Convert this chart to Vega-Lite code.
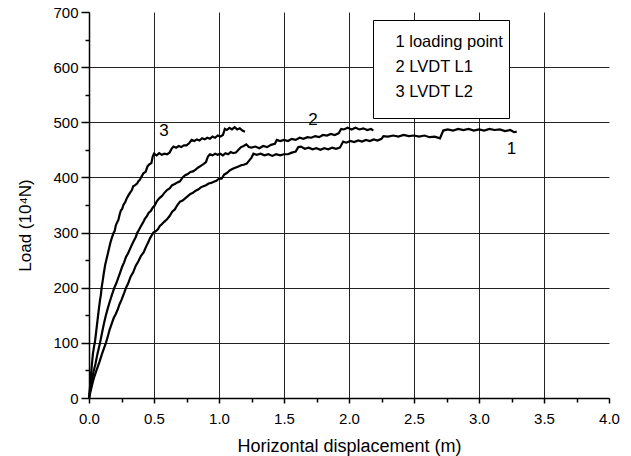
{
  "$schema": "https://vega.github.io/schema/vega-lite/v6.json",
  "autosize": {"type": "none"},
  "width": 520,
  "height": 386,
  "padding": {"left": 89, "top": 12, "right": 22, "bottom": 58},
  "background": "#ffffff",
  "config": {
    "view": {"stroke": null},
    "font": "Liberation Sans",
    "axis": {
      "labelFont": "Liberation Sans",
      "titleFont": "Liberation Sans",
      "labelColor": "#000",
      "titleColor": "#000",
      "titleFontWeight": "normal",
      "domainColor": "#000",
      "tickColor": "#000",
      "labelFlush": false,
      "labelOverlap": false
    },
    "legend": {"labelFont": "Liberation Sans", "titleFont": "Liberation Sans"}
  },
  "datasets": {
    "curves": [
      {"s":"3 LVDT L2","x":0,"y":0},{"s":"3 LVDT L2","x":0.008,"y":20},{"s":"3 LVDT L2","x":0.015,"y":40},{"s":"3 LVDT L2","x":0.022,"y":60},{"s":"3 LVDT L2","x":0.03,"y":80},{"s":"3 LVDT L2","x":0.04,"y":95},{"s":"3 LVDT L2","x":0.046,"y":102},{"s":"3 LVDT L2","x":0.055,"y":120},{"s":"3 LVDT L2","x":0.065,"y":140},{"s":"3 LVDT L2","x":0.075,"y":160},{"s":"3 LVDT L2","x":0.085,"y":178},{"s":"3 LVDT L2","x":0.092,"y":188},{"s":"3 LVDT L2","x":0.097,"y":200},{"s":"3 LVDT L2","x":0.105,"y":212},{"s":"3 LVDT L2","x":0.115,"y":228},{"s":"3 LVDT L2","x":0.125,"y":242},{"s":"3 LVDT L2","x":0.135,"y":252},{"s":"3 LVDT L2","x":0.145,"y":262},{"s":"3 LVDT L2","x":0.155,"y":272},{"s":"3 LVDT L2","x":0.165,"y":282},{"s":"3 LVDT L2","x":0.175,"y":290},{"s":"3 LVDT L2","x":0.19,"y":300},{"s":"3 LVDT L2","x":0.198,"y":303},{"s":"3 LVDT L2","x":0.205,"y":312},{"s":"3 LVDT L2","x":0.215,"y":318},{"s":"3 LVDT L2","x":0.226,"y":323},{"s":"3 LVDT L2","x":0.235,"y":332},{"s":"3 LVDT L2","x":0.245,"y":340},{"s":"3 LVDT L2","x":0.255,"y":343},{"s":"3 LVDT L2","x":0.265,"y":350},{"s":"3 LVDT L2","x":0.28,"y":356},{"s":"3 LVDT L2","x":0.29,"y":362},{"s":"3 LVDT L2","x":0.3,"y":366},{"s":"3 LVDT L2","x":0.315,"y":372},{"s":"3 LVDT L2","x":0.33,"y":377},{"s":"3 LVDT L2","x":0.34,"y":384},{"s":"3 LVDT L2","x":0.355,"y":386},{"s":"3 LVDT L2","x":0.37,"y":389},{"s":"3 LVDT L2","x":0.38,"y":393},{"s":"3 LVDT L2","x":0.392,"y":396},{"s":"3 LVDT L2","x":0.405,"y":402},{"s":"3 LVDT L2","x":0.42,"y":408},{"s":"3 LVDT L2","x":0.435,"y":410},{"s":"3 LVDT L2","x":0.45,"y":420},{"s":"3 LVDT L2","x":0.465,"y":424},{"s":"3 LVDT L2","x":0.48,"y":426},{"s":"3 LVDT L2","x":0.49,"y":438},{"s":"3 LVDT L2","x":0.5,"y":443},{"s":"3 LVDT L2","x":0.52,"y":440},{"s":"3 LVDT L2","x":0.54,"y":444},{"s":"3 LVDT L2","x":0.56,"y":441},{"s":"3 LVDT L2","x":0.58,"y":443},{"s":"3 LVDT L2","x":0.6,"y":442},{"s":"3 LVDT L2","x":0.62,"y":445},{"s":"3 LVDT L2","x":0.635,"y":452},{"s":"3 LVDT L2","x":0.65,"y":456},{"s":"3 LVDT L2","x":0.67,"y":454},{"s":"3 LVDT L2","x":0.69,"y":457},{"s":"3 LVDT L2","x":0.71,"y":455},{"s":"3 LVDT L2","x":0.73,"y":458},{"s":"3 LVDT L2","x":0.75,"y":458},{"s":"3 LVDT L2","x":0.77,"y":462},{"s":"3 LVDT L2","x":0.79,"y":468},{"s":"3 LVDT L2","x":0.81,"y":466},{"s":"3 LVDT L2","x":0.83,"y":469},{"s":"3 LVDT L2","x":0.85,"y":467},{"s":"3 LVDT L2","x":0.87,"y":471},{"s":"3 LVDT L2","x":0.89,"y":469},{"s":"3 LVDT L2","x":0.91,"y":472},{"s":"3 LVDT L2","x":0.93,"y":470},{"s":"3 LVDT L2","x":0.95,"y":474},{"s":"3 LVDT L2","x":0.97,"y":472},{"s":"3 LVDT L2","x":0.99,"y":476},{"s":"3 LVDT L2","x":1.01,"y":474},{"s":"3 LVDT L2","x":1.03,"y":477},{"s":"3 LVDT L2","x":1.045,"y":488},{"s":"3 LVDT L2","x":1.06,"y":486},{"s":"3 LVDT L2","x":1.08,"y":490},{"s":"3 LVDT L2","x":1.1,"y":487},{"s":"3 LVDT L2","x":1.12,"y":491},{"s":"3 LVDT L2","x":1.14,"y":487},{"s":"3 LVDT L2","x":1.16,"y":489},{"s":"3 LVDT L2","x":1.18,"y":485},{"s":"3 LVDT L2","x":1.2,"y":483},

      {"s":"2 LVDT L1","x":0,"y":0},{"s":"2 LVDT L1","x":0.01,"y":15},{"s":"2 LVDT L1","x":0.02,"y":30},{"s":"2 LVDT L1","x":0.035,"y":48},{"s":"2 LVDT L1","x":0.05,"y":62},{"s":"2 LVDT L1","x":0.065,"y":80},{"s":"2 LVDT L1","x":0.085,"y":100},{"s":"2 LVDT L1","x":0.1,"y":118},{"s":"2 LVDT L1","x":0.115,"y":135},{"s":"2 LVDT L1","x":0.13,"y":150},{"s":"2 LVDT L1","x":0.145,"y":163},{"s":"2 LVDT L1","x":0.16,"y":175},{"s":"2 LVDT L1","x":0.175,"y":186},{"s":"2 LVDT L1","x":0.195,"y":200},{"s":"2 LVDT L1","x":0.21,"y":208},{"s":"2 LVDT L1","x":0.225,"y":218},{"s":"2 LVDT L1","x":0.24,"y":228},{"s":"2 LVDT L1","x":0.255,"y":238},{"s":"2 LVDT L1","x":0.27,"y":246},{"s":"2 LVDT L1","x":0.285,"y":256},{"s":"2 LVDT L1","x":0.3,"y":262},{"s":"2 LVDT L1","x":0.315,"y":270},{"s":"2 LVDT L1","x":0.33,"y":278},{"s":"2 LVDT L1","x":0.345,"y":285},{"s":"2 LVDT L1","x":0.36,"y":292},{"s":"2 LVDT L1","x":0.372,"y":300},{"s":"2 LVDT L1","x":0.385,"y":305},{"s":"2 LVDT L1","x":0.4,"y":312},{"s":"2 LVDT L1","x":0.415,"y":318},{"s":"2 LVDT L1","x":0.43,"y":325},{"s":"2 LVDT L1","x":0.445,"y":330},{"s":"2 LVDT L1","x":0.46,"y":336},{"s":"2 LVDT L1","x":0.475,"y":339},{"s":"2 LVDT L1","x":0.49,"y":345},{"s":"2 LVDT L1","x":0.505,"y":349},{"s":"2 LVDT L1","x":0.52,"y":356},{"s":"2 LVDT L1","x":0.54,"y":362},{"s":"2 LVDT L1","x":0.56,"y":366},{"s":"2 LVDT L1","x":0.58,"y":372},{"s":"2 LVDT L1","x":0.6,"y":377},{"s":"2 LVDT L1","x":0.62,"y":380},{"s":"2 LVDT L1","x":0.64,"y":386},{"s":"2 LVDT L1","x":0.66,"y":388},{"s":"2 LVDT L1","x":0.68,"y":391},{"s":"2 LVDT L1","x":0.7,"y":393},{"s":"2 LVDT L1","x":0.72,"y":400},{"s":"2 LVDT L1","x":0.74,"y":404},{"s":"2 LVDT L1","x":0.76,"y":406},{"s":"2 LVDT L1","x":0.78,"y":410},{"s":"2 LVDT L1","x":0.8,"y":411},{"s":"2 LVDT L1","x":0.82,"y":414},{"s":"2 LVDT L1","x":0.84,"y":418},{"s":"2 LVDT L1","x":0.86,"y":421},{"s":"2 LVDT L1","x":0.88,"y":424},{"s":"2 LVDT L1","x":0.9,"y":428},{"s":"2 LVDT L1","x":0.915,"y":438},{"s":"2 LVDT L1","x":0.93,"y":442},{"s":"2 LVDT L1","x":0.95,"y":440},{"s":"2 LVDT L1","x":0.97,"y":443},{"s":"2 LVDT L1","x":0.99,"y":441},{"s":"2 LVDT L1","x":1.01,"y":443},{"s":"2 LVDT L1","x":1.03,"y":440},{"s":"2 LVDT L1","x":1.05,"y":444},{"s":"2 LVDT L1","x":1.07,"y":442},{"s":"2 LVDT L1","x":1.09,"y":446},{"s":"2 LVDT L1","x":1.11,"y":444},{"s":"2 LVDT L1","x":1.13,"y":445},{"s":"2 LVDT L1","x":1.15,"y":450},{"s":"2 LVDT L1","x":1.17,"y":455},{"s":"2 LVDT L1","x":1.19,"y":457},{"s":"2 LVDT L1","x":1.21,"y":460},{"s":"2 LVDT L1","x":1.23,"y":455},{"s":"2 LVDT L1","x":1.25,"y":454},{"s":"2 LVDT L1","x":1.28,"y":456},{"s":"2 LVDT L1","x":1.31,"y":453},{"s":"2 LVDT L1","x":1.34,"y":457},{"s":"2 LVDT L1","x":1.37,"y":455},{"s":"2 LVDT L1","x":1.4,"y":459},{"s":"2 LVDT L1","x":1.43,"y":461},{"s":"2 LVDT L1","x":1.445,"y":468},{"s":"2 LVDT L1","x":1.47,"y":466},{"s":"2 LVDT L1","x":1.5,"y":468},{"s":"2 LVDT L1","x":1.53,"y":466},{"s":"2 LVDT L1","x":1.56,"y":470},{"s":"2 LVDT L1","x":1.59,"y":468},{"s":"2 LVDT L1","x":1.62,"y":472},{"s":"2 LVDT L1","x":1.65,"y":470},{"s":"2 LVDT L1","x":1.68,"y":473},{"s":"2 LVDT L1","x":1.71,"y":472},{"s":"2 LVDT L1","x":1.74,"y":475},{"s":"2 LVDT L1","x":1.77,"y":473},{"s":"2 LVDT L1","x":1.8,"y":477},{"s":"2 LVDT L1","x":1.83,"y":476},{"s":"2 LVDT L1","x":1.86,"y":479},{"s":"2 LVDT L1","x":1.89,"y":477},{"s":"2 LVDT L1","x":1.92,"y":480},{"s":"2 LVDT L1","x":1.94,"y":488},{"s":"2 LVDT L1","x":1.96,"y":487},{"s":"2 LVDT L1","x":1.99,"y":490},{"s":"2 LVDT L1","x":2.02,"y":487},{"s":"2 LVDT L1","x":2.05,"y":490},{"s":"2 LVDT L1","x":2.08,"y":487},{"s":"2 LVDT L1","x":2.11,"y":489},{"s":"2 LVDT L1","x":2.14,"y":486},{"s":"2 LVDT L1","x":2.17,"y":488},{"s":"2 LVDT L1","x":2.187,"y":485},

      {"s":"1 loading point","x":0,"y":0},{"s":"1 loading point","x":0.01,"y":10},{"s":"1 loading point","x":0.025,"y":25},{"s":"1 loading point","x":0.04,"y":38},{"s":"1 loading point","x":0.06,"y":52},{"s":"1 loading point","x":0.08,"y":65},{"s":"1 loading point","x":0.1,"y":80},{"s":"1 loading point","x":0.115,"y":90},{"s":"1 loading point","x":0.13,"y":100},{"s":"1 loading point","x":0.145,"y":112},{"s":"1 loading point","x":0.16,"y":125},{"s":"1 loading point","x":0.175,"y":135},{"s":"1 loading point","x":0.19,"y":145},{"s":"1 loading point","x":0.205,"y":152},{"s":"1 loading point","x":0.22,"y":160},{"s":"1 loading point","x":0.235,"y":170},{"s":"1 loading point","x":0.25,"y":178},{"s":"1 loading point","x":0.27,"y":190},{"s":"1 loading point","x":0.285,"y":200},{"s":"1 loading point","x":0.3,"y":207},{"s":"1 loading point","x":0.32,"y":220},{"s":"1 loading point","x":0.34,"y":228},{"s":"1 loading point","x":0.36,"y":240},{"s":"1 loading point","x":0.38,"y":248},{"s":"1 loading point","x":0.4,"y":258},{"s":"1 loading point","x":0.42,"y":264},{"s":"1 loading point","x":0.44,"y":275},{"s":"1 loading point","x":0.455,"y":282},{"s":"1 loading point","x":0.47,"y":290},{"s":"1 loading point","x":0.485,"y":296},{"s":"1 loading point","x":0.495,"y":300},{"s":"1 loading point","x":0.51,"y":302},{"s":"1 loading point","x":0.53,"y":306},{"s":"1 loading point","x":0.545,"y":312},{"s":"1 loading point","x":0.56,"y":315},{"s":"1 loading point","x":0.58,"y":320},{"s":"1 loading point","x":0.6,"y":324},{"s":"1 loading point","x":0.62,"y":330},{"s":"1 loading point","x":0.64,"y":338},{"s":"1 loading point","x":0.66,"y":342},{"s":"1 loading point","x":0.68,"y":350},{"s":"1 loading point","x":0.7,"y":356},{"s":"1 loading point","x":0.72,"y":358},{"s":"1 loading point","x":0.74,"y":362},{"s":"1 loading point","x":0.76,"y":366},{"s":"1 loading point","x":0.78,"y":370},{"s":"1 loading point","x":0.8,"y":372},{"s":"1 loading point","x":0.82,"y":376},{"s":"1 loading point","x":0.84,"y":378},{"s":"1 loading point","x":0.86,"y":382},{"s":"1 loading point","x":0.88,"y":384},{"s":"1 loading point","x":0.9,"y":386},{"s":"1 loading point","x":0.92,"y":389},{"s":"1 loading point","x":0.94,"y":390},{"s":"1 loading point","x":0.96,"y":392},{"s":"1 loading point","x":0.98,"y":394},{"s":"1 loading point","x":1.0,"y":398},{"s":"1 loading point","x":1.02,"y":398},{"s":"1 loading point","x":1.04,"y":405},{"s":"1 loading point","x":1.06,"y":408},{"s":"1 loading point","x":1.085,"y":413},{"s":"1 loading point","x":1.11,"y":416},{"s":"1 loading point","x":1.13,"y":418},{"s":"1 loading point","x":1.15,"y":420},{"s":"1 loading point","x":1.17,"y":422},{"s":"1 loading point","x":1.19,"y":423},{"s":"1 loading point","x":1.213,"y":425},{"s":"1 loading point","x":1.23,"y":430},{"s":"1 loading point","x":1.25,"y":436},{"s":"1 loading point","x":1.265,"y":443},{"s":"1 loading point","x":1.29,"y":441},{"s":"1 loading point","x":1.32,"y":443},{"s":"1 loading point","x":1.35,"y":440},{"s":"1 loading point","x":1.38,"y":442},{"s":"1 loading point","x":1.41,"y":439},{"s":"1 loading point","x":1.44,"y":442},{"s":"1 loading point","x":1.47,"y":440},{"s":"1 loading point","x":1.5,"y":442},{"s":"1 loading point","x":1.53,"y":442},{"s":"1 loading point","x":1.56,"y":445},{"s":"1 loading point","x":1.59,"y":447},{"s":"1 loading point","x":1.61,"y":455},{"s":"1 loading point","x":1.63,"y":456},{"s":"1 loading point","x":1.66,"y":452},{"s":"1 loading point","x":1.69,"y":454},{"s":"1 loading point","x":1.72,"y":451},{"s":"1 loading point","x":1.75,"y":453},{"s":"1 loading point","x":1.78,"y":450},{"s":"1 loading point","x":1.81,"y":453},{"s":"1 loading point","x":1.84,"y":451},{"s":"1 loading point","x":1.87,"y":454},{"s":"1 loading point","x":1.9,"y":452},{"s":"1 loading point","x":1.93,"y":454},{"s":"1 loading point","x":1.955,"y":465},{"s":"1 loading point","x":1.98,"y":463},{"s":"1 loading point","x":2.01,"y":466},{"s":"1 loading point","x":2.04,"y":464},{"s":"1 loading point","x":2.07,"y":467},{"s":"1 loading point","x":2.1,"y":465},{"s":"1 loading point","x":2.13,"y":468},{"s":"1 loading point","x":2.16,"y":466},{"s":"1 loading point","x":2.19,"y":469},{"s":"1 loading point","x":2.22,"y":467},{"s":"1 loading point","x":2.25,"y":470},{"s":"1 loading point","x":2.265,"y":475},{"s":"1 loading point","x":2.3,"y":474},{"s":"1 loading point","x":2.34,"y":476},{"s":"1 loading point","x":2.38,"y":474},{"s":"1 loading point","x":2.42,"y":477},{"s":"1 loading point","x":2.46,"y":475},{"s":"1 loading point","x":2.5,"y":476},{"s":"1 loading point","x":2.54,"y":474},{"s":"1 loading point","x":2.58,"y":476},{"s":"1 loading point","x":2.62,"y":473},{"s":"1 loading point","x":2.66,"y":474},{"s":"1 loading point","x":2.7,"y":471},{"s":"1 loading point","x":2.725,"y":485},{"s":"1 loading point","x":2.76,"y":487},{"s":"1 loading point","x":2.8,"y":485},{"s":"1 loading point","x":2.84,"y":488},{"s":"1 loading point","x":2.88,"y":486},{"s":"1 loading point","x":2.92,"y":488},{"s":"1 loading point","x":2.96,"y":485},{"s":"1 loading point","x":3.0,"y":487},{"s":"1 loading point","x":3.04,"y":485},{"s":"1 loading point","x":3.08,"y":488},{"s":"1 loading point","x":3.12,"y":486},{"s":"1 loading point","x":3.16,"y":487},{"s":"1 loading point","x":3.2,"y":484},{"s":"1 loading point","x":3.24,"y":486},{"s":"1 loading point","x":3.27,"y":482},{"s":"1 loading point","x":3.29,"y":483}
    ],
    "labels": [
      {"x": 0.577, "y": 484, "t": "3"},
      {"x": 1.723, "y": 505, "t": "2"},
      {"x": 3.25, "y": 451, "t": "1"}
    ]
  },
  "resolve": {"axis": {"x": "independent", "y": "independent"}},
  "layer": [
    {
      "data": {"name": "curves"},
      "mark": {"type": "line", "strokeWidth": 2.2, "interpolate": "linear"},
      "encoding": {
        "x": {
          "field": "x", "type": "quantitative",
          "scale": {"domain": [0, 4], "nice": false, "zero": false},
          "axis": {
            "orient": "bottom",
            "values": [0, 0.5, 1, 1.5, 2, 2.5, 3, 3.5, 4],
            "format": ".1f",
            "labelFontSize": 15,
            "labelPadding": 8,
            "tickSize": 5,
            "tickWidth": 1.5,
            "domainWidth": 1.5,
            "grid": true,
            "gridColor": "#222",
            "gridWidth": 1,
            "gridOpacity": {"condition": {"test": "datum.value >= 4", "value": 0}, "value": 1},
            "title": "Horizontal displacement (m)",
            "titleFontSize": 18,
            "titleY": 53,
            "titleBaseline": "alphabetic"
          }
        },
        "y": {
          "field": "y", "type": "quantitative",
          "scale": {"domain": [0, 700], "nice": false, "zero": true},
          "axis": {
            "orient": "left",
            "values": [0, 100, 200, 300, 400, 500, 600, 700],
            "labelFontSize": 15,
            "labelPadding": 3,
            "tickSize": 8,
            "tickWidth": 1.5,
            "domainWidth": 1.5,
            "grid": true,
            "gridColor": "#222",
            "gridWidth": 1,
            "gridOpacity": {"condition": {"test": "datum.value >= 700", "value": 0}, "value": 1},
            "title": "Load (10⁴N)",
            "titleFontSize": 17,
            "titleX": -64,
            "titleY": 213,
            "titleAlign": "center",
            "titleBaseline": "middle",
            "titleAngle": -90
          }
        },
        "color": {
          "field": "s", "type": "nominal",
          "scale": {"domain": ["1 loading point", "2 LVDT L1", "3 LVDT L2"], "range": ["#000000", "#000000", "#000000"]},
          "legend": {
            "orient": "none",
            "legendX": 284,
            "legendY": 8,
            "title": " ",
            "titleOrient": "bottom",
            "titleFontSize": 12,
            "titlePadding": 0,
            "labelFontSize": 16.5,
            "labelBaseline": "top",
            "labelColor": "#000",
            "labelLimit": 300,
            "symbolSize": 0,
            "symbolStrokeWidth": 0,
            "symbolOpacity": 0,
            "labelOffset": 0,
            "padding": 6,
            "rowPadding": -6.5,
            "strokeColor": "#000",
            "fillColor": "#ffffff"
          }
        }
      }
    },
    {
      "data": {"name": "labels"},
      "mark": {"type": "text", "fontSize": 17, "color": "#000", "font": "Liberation Sans", "baseline": "middle", "align": "center"},
      "encoding": {
        "x": {
          "field": "x", "type": "quantitative",
          "axis": {
            "orient": "bottom",
            "values": [0.25, 0.75, 1.25, 1.75, 2.25, 2.75, 3.25, 3.75],
            "labels": false, "grid": false, "domain": false,
            "tickSize": 4, "tickWidth": 1.5, "title": null
          }
        },
        "y": {
          "field": "y", "type": "quantitative",
          "axis": {
            "orient": "left",
            "values": [50, 150, 250, 350, 450, 550, 650],
            "labels": false, "grid": false, "domain": false,
            "tickSize": 4, "tickWidth": 1.5, "title": null
          }
        },
        "text": {"field": "t", "type": "nominal"}
      }
    }
  ]
}
